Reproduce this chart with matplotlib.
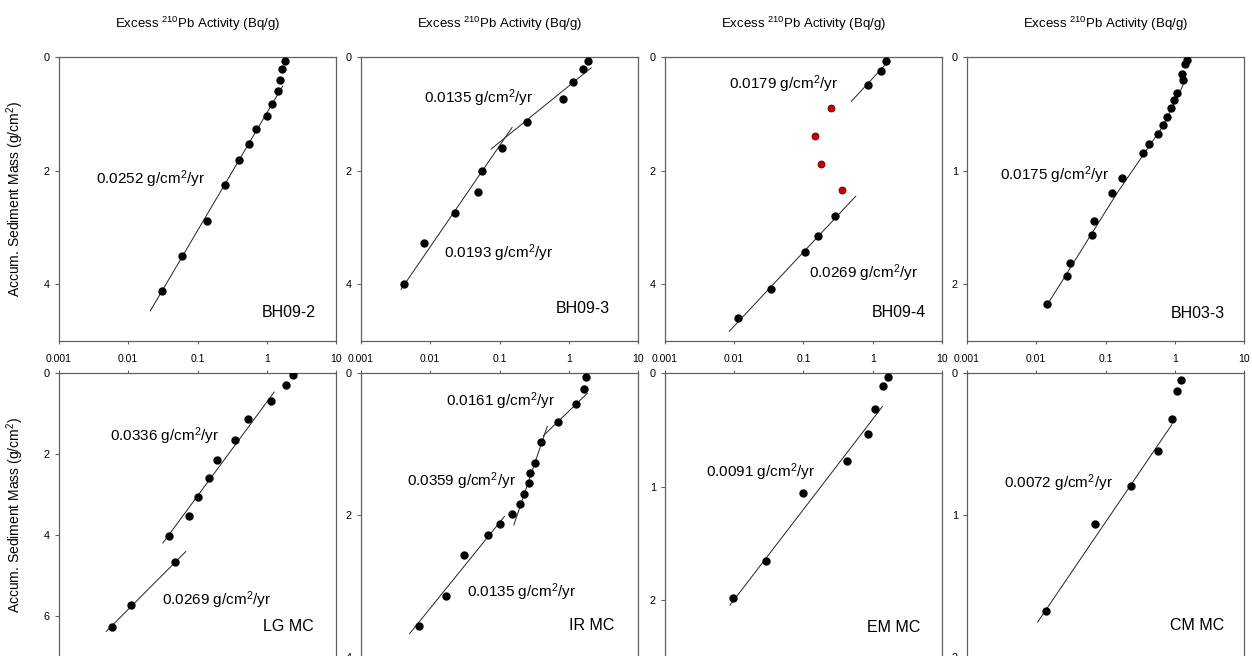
import matplotlib
matplotlib.use('Agg')
import matplotlib.pyplot as plt

plt.rcParams['font.family'] = ['Liberation Sans', 'DejaVu Sans']
plt.rcParams['mathtext.fontset'] = 'custom'
plt.rcParams['mathtext.rm'] = 'Liberation Sans'
plt.rcParams['mathtext.it'] = 'Liberation Sans:italic'
plt.rcParams['mathtext.bf'] = 'Liberation Sans:bold'

x_ticks = [0.001, 0.01, 0.1, 1, 10]
x_tick_labels = ['0.001', '0.01', '0.1', '1', '10']
x_title = r'Excess $\mathregular{^{210}}$Pb Activity (Bq/g)'
y_title = r'Accum. Sediment Mass (g/cm$\mathregular{^2}$)'

# --- BH09-2
bh092_act = [1.84, 1.65, 1.56, 1.44, 1.21, 1.0, 0.70, 0.56, 0.40, 0.25, 0.136, 0.059, 0.031]
bh092_mass = [0.065, 0.22, 0.41, 0.59, 0.82, 1.04, 1.27, 1.54, 1.82, 2.26, 2.88, 3.5, 4.12]
bh092_fits = [([0.0208, 1.70], [4.47, 0.51])]
bh092_rates = [('0.0252', 0.135, 0.571)]

# --- BH09-3
bh093_act = [1.91, 1.58, 1.16, 0.83, 0.251, 0.107, 0.0562, 0.0486, 0.0231, 0.00824, 0.00423]
bh093_mass = [0.065, 0.22, 0.44, 0.735, 1.15, 1.6, 2.0, 2.38, 2.74, 3.28, 3.99]
bh093_fits = [([0.0759, 2.11], [1.62, 0.19]),
              ([0.00379, 0.152], [4.09, 1.24])]
bh093_rates = [('0.0135', 0.2265, 0.855), ('0.0193', 0.299, 0.308)]

# --- BH09-4 (red = excluded points)
bh094_act = [1.54, 1.32, 0.857, 0.286, 0.16, 0.106, 0.0345, 0.0113]
bh094_mass = [0.07, 0.246, 0.49, 2.80, 3.16, 3.44, 4.09, 4.60]
bh094_red_act = [0.248, 0.146, 0.178, 0.357]
bh094_red_mass = [0.89, 1.385, 1.88, 2.35]
bh094_fits = [([0.492, 1.49], [0.78, 0.147]),
              ([0.00847, 0.569], [4.83, 2.45])]
bh094_rates = [('0.0179', 0.232, 0.903), ('0.0269', 0.52, 0.239)]

# --- BH03-3
bh033_act = [1.48, 1.42, 1.27, 1.33, 1.07, 0.975, 0.893, 0.765, 0.67, 0.568,
             0.431, 0.346, 0.175, 0.123, 0.0684, 0.0647, 0.0312, 0.0277, 0.0144]
bh033_mass = [0.024, 0.059, 0.147, 0.203, 0.315, 0.379, 0.453, 0.524, 0.597, 0.679,
              0.762, 0.847, 1.062, 1.194, 1.447, 1.571, 1.812, 1.932, 2.171]
bh033_fits = [([0.0138, 0.146, 0.668, 1.16, 1.32],
               [2.2, 1.2, 0.613, 0.32, 0.246])]
bh033_rates = [('0.0175', 0.12, 0.585)]

# --- LG MC
lg_act = [2.43, 1.88, 1.14, 0.538, 0.353, 0.194, 0.146, 0.101, 0.0758, 0.0386, 0.0476, 0.011, 0.00588]
lg_mass = [0.04, 0.30, 0.70, 1.13, 1.64, 2.14, 2.60, 3.06, 3.53, 4.02, 4.66, 5.71, 6.27]
lg_fits = [([0.0316, 1.28], [4.19, 0.47]),
           ([0.00481, 0.0679], [6.37, 4.40])]
lg_rates = [('0.0336', 0.183, 0.779), ('0.0269', 0.371, 0.2)]

# --- IR MC
ir_act = [1.75, 1.66, 1.26, 0.69, 0.396, 0.328, 0.275, 0.263, 0.227, 0.197,
          0.154, 0.103, 0.0678, 0.0308, 0.0171, 0.0069]
ir_mass = [0.056, 0.23, 0.433, 0.687, 0.969, 1.261, 1.407, 1.548, 1.699, 1.849,
           1.991, 2.132, 2.278, 2.565, 3.134, 3.562]
ir_fits = [([0.428, 1.85], [0.885, 0.287]),
           ([0.161, 0.489], [2.14, 0.753]),
           ([0.00505, 0.118], [3.67, 2.02])]
ir_rates = [('0.0161', 0.307, 0.9), ('0.0359', 0.166, 0.618), ('0.0135', 0.381, 0.229)]

# --- EM MC
em_act = [1.68, 1.41, 1.06, 0.866, 0.431, 0.1, 0.0286, 0.00957]
em_mass = [0.035, 0.118, 0.316, 0.534, 0.776, 1.059, 1.658, 1.985]
em_fits = [([0.00866, 1.38], [2.044, 0.295])]
em_rates = [('0.0091', 0.148, 0.652)]

# --- CM MC
cm_act = [1.24, 1.07, 0.903, 0.574, 0.23, 0.0714, 0.0137]
cm_mass = [0.047, 0.129, 0.322, 0.546, 0.793, 1.066, 1.678]
cm_fits = [([0.0105, 0.903], [1.753, 0.365])]
cm_rates = [('0.0072', 0.132, 0.612)]

panels = [
    # name, act, mass, fits, rates, ymax, yticks, label pos, row
    ('BH09-2', bh092_act, bh092_mass, bh092_fits, bh092_rates, 5, [0, 2, 4], (0.928, 0.099), 0),
    ('BH09-3', bh093_act, bh093_mass, bh093_fits, bh093_rates, 5, [0, 2, 4], (0.899, 0.114), 0),
    ('BH09-4', bh094_act, bh094_mass, bh094_fits, bh094_rates, 5, [0, 2, 4], (0.941, 0.102), 0),
    ('BH03-3', bh033_act, bh033_mass, bh033_fits, bh033_rates, 2.5, [0, 1, 2], (0.932, 0.096), 0),
    ('LG MC', lg_act, lg_mass, lg_fits, lg_rates, 7, [0, 2, 4, 6], (0.918, 0.108), 1),
    ('IR MC', ir_act, ir_mass, ir_fits, ir_rates, 4, [0, 2, 4], (0.913, 0.112), 1),
    ('EM MC', em_act, em_mass, em_fits, em_rates, 2.5, [0, 1, 2], (0.922, 0.103), 1),
    ('CM MC', cm_act, cm_mass, cm_fits, cm_rates, 2, [0, 1, 2], (0.928, 0.11), 1),
]

W, H = 1252, 656
fig = plt.figure(figsize=(W / 100, H / 100), dpi=100)

lefts = [59, 361, 665, 967]
aw, ah = 277, 284
tops = [57, 373]
spine_col = '#606060'

for i, (name, act, mass, fits, rates, ymax, yticks, lpos, row) in enumerate(panels):
    col = i % 4
    ax = fig.add_axes([lefts[col] / W, (H - tops[row] - ah) / H, aw / W, ah / H])
    ax.set_xscale('log')
    ax.set_xlim(0.001, 10)
    ax.set_ylim(ymax, 0)

    for fx, fy in fits:
        ax.plot(fx, fy, color='#222222', lw=0.7, zorder=2)
    ax.plot(act, mass, 'o', color='black', ms=5, zorder=3)
    if name == 'BH09-4':
        ax.plot(bh094_red_act, bh094_red_mass, 'o', color='#cc0000', mec='#550000',
                mew=0.6, ms=5, zorder=3)

    for val, tx, ty in rates:
        ax.text(tx, ty, val + r' g/cm$\mathregular{^2}$/yr', transform=ax.transAxes,
                ha='left', va='center', fontsize=11)
    ax.text(lpos[0], lpos[1], name, transform=ax.transAxes, ha='right', va='center',
            fontsize=11.5)

    ax.set_xticks(x_ticks)
    ax.xaxis.set_minor_locator(matplotlib.ticker.NullLocator())
    ax.set_yticks(yticks)
    ax.set_yticklabels([str(t) for t in yticks])
    for s in ax.spines.values():
        s.set_color(spine_col)
        s.set_linewidth(0.9)
    ax.tick_params(axis='y', direction='out', length=3, width=0.8, color=spine_col,
                   pad=3.5, labelsize=7.8)
    if row == 0:
        ax.set_xticklabels(x_tick_labels)
        ax.tick_params(axis='x', direction='out', length=2.2, width=0.8, color=spine_col,
                       pad=7, labelsize=7.5)
        ax.set_title(x_title, fontsize=9.5, pad=21)
    else:
        ax.xaxis.tick_top()
        ax.set_xticklabels([])
        ax.tick_params(axis='x', direction='out', length=2.2, width=0.8, color=spine_col)

    if col == 0:
        ax.set_ylabel(y_title, fontsize=10)
        ax.yaxis.set_label_coords(-0.119, 0.5)

fig.savefig('out.png', dpi=100)
